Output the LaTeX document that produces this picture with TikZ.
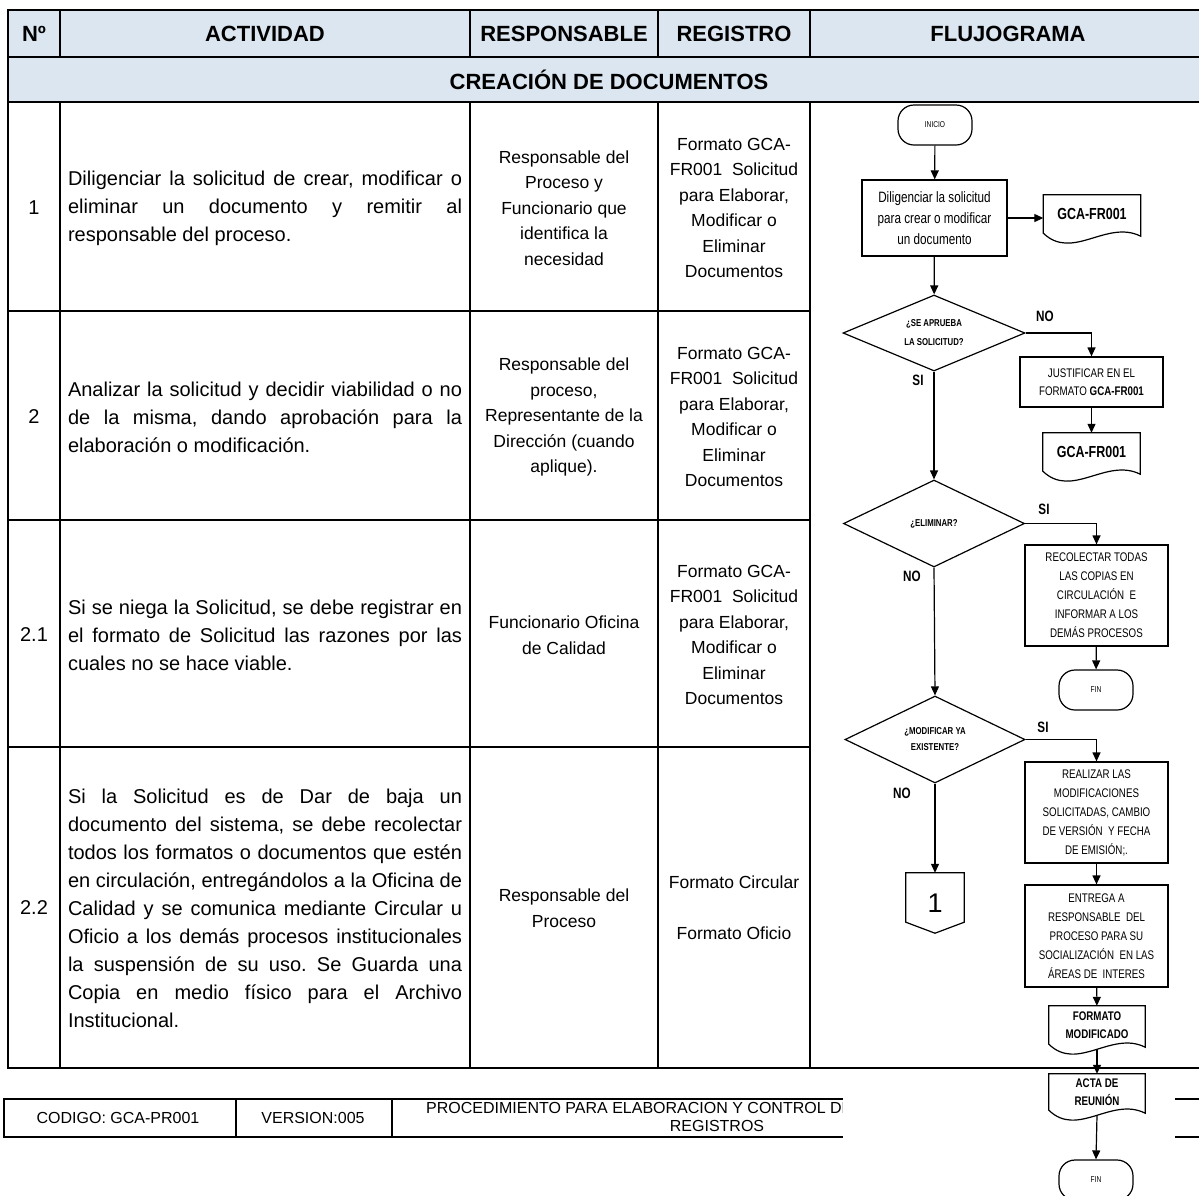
\documentclass[tikz,border=0pt]{standalone}
\usepackage{fontspec}
\setmainfont{Liberation Sans}
\newfontfamily\narrowfont{Liberation Sans}[FakeStretch=0.78]
\usetikzlibrary{arrows.meta,shapes.geometric,calc}

\definecolor{headblue}{HTML}{DCE6F1}
\newcommand{\fsize}[2]{\fontsize{#1pt}{#2pt}\selectfont}
\tolerance=10000
\hyphenpenalty=10000
\frenchspacing

% document symbol: box with a wavy bottom edge
\newcommand{\docoutline}[1]{%
  \draw[flowline] (#1.north west) -- (#1.north east) -- ($(#1.south east)+(0pt,-3pt)$)
    .. controls ($(#1.south west)!0.65!(#1.south east)+(0pt,14pt)$) and ($(#1.south west)!0.3!(#1.south east)+(0pt,-28pt)$) .. (#1.south west) -- cycle;}

\begin{document}
\begin{tikzpicture}[x=1pt,y=-1pt,
        tabline/.style={line width=2.2pt},
        footline/.style={line width=2pt},
        headtext/.style={font=\bfseries\fsize{22}{26}},
        numtext/.style={font=\fsize{20}{28}},
        acttext/.style={text width=394pt,align=justify,inner sep=0pt,font=\fsize{20}{28}},
        celltext/.style={align=center,inner sep=0pt,font=\fsize{17.5}{25.5}},
        foottext/.style={inner sep=0pt,font=\fsize{16}{18}},
        flowline/.style={line width=1.2pt},
        arrow/.style={flowline,-{Triangle[length=9pt,width=8pt]}},
        terminal/.style={draw,flowline,rounded corners=16pt,minimum width=74pt,minimum height=40pt,
            inner sep=0pt,font=\narrowfont\fsize{8.5}{10}},
        process/.style={draw,flowline,fill=white,align=center,inner sep=0pt,
            minimum width=143pt,font=\narrowfont\fsize{12.5}{19}},
        decision/.style={diamond,aspect=2.4,draw,flowline,align=center,inner sep=0pt,
            font=\narrowfont\bfseries\fsize{10}{19}},
        docnode/.style={align=center,inner sep=0pt,minimum width=97pt,minimum height=38pt},
        answer/.style={inner sep=0pt,font=\narrowfont\bfseries\fsize{15}{18}}
    ]
    \useasboundingbox (0,0) rectangle (1199,1195);

    % Header background and table grid
    \fill[headblue] (8,10) rectangle (1210,102);
    \draw[tabline] (8,10) rectangle (1210,1068);
    \draw[tabline] (8,57) -- (1210,57);
    \draw[tabline] (8,102) -- (1210,102);
    \foreach \y in {311,520,747}
        \draw[tabline] (8,\y) -- (810,\y);
    \foreach \x in {60,470,658,810} {
        \draw[tabline] (\x,10) -- (\x,57);
        \draw[tabline] (\x,102) -- (\x,1068);
    }

    % Header texts
    \node[headtext] (hNum) at (34,34) {Nº};
    \node[headtext] (hAct) at (265,34) {ACTIVIDAD};
    \node[headtext] (hResp) at (564,34) {RESPONSABLE};
    \node[headtext] (hReg) at (734,34) {REGISTRO};
    \node[headtext] (hFlujo) at (1008,34) {FLUJOGRAMA};
    \node[headtext] (hSec) at (609,80) {CREACIÓN DE DOCUMENTOS};

    % Row 1
    \node[numtext] (num1) at (34,208) {1};
    \node[acttext] (act1) at (265,208) {Diligenciar la solicitud de crear, modificar o\linebreak eliminar un documento y remitir al\linebreak responsable del proceso.};
    \node[celltext] (resp1) at (564,208) {Responsable del\\Proceso y\\Funcionario que\\identifica la\\necesidad};
    \node[celltext] (reg1) at (734,208) {Formato GCA-\\FR001 \ Solicitud\\para Elaborar,\\Modificar o\\Eliminar\\Documentos};

    % Row 2
    \node[numtext] (num2) at (34,417) {2};
    \node[acttext] (act2) at (265,417) {Analizar la solicitud y decidir viabilidad o no\linebreak de la misma, dando aprobación para la\linebreak elaboración o modificación.};
    \node[celltext] (resp2) at (564,417) {Responsable del\\proceso,\\Representante de la\\Dirección (cuando\\aplique).};
    \node[celltext] (reg2) at (734,417) {Formato GCA-\\FR001 \ Solicitud\\para Elaborar,\\Modificar o\\Eliminar\\Documentos};

    % Row 2.1
    \node[numtext] (num21) at (34,635) {2.1};
    \node[acttext] (act21) at (265,635) {Si se niega la Solicitud, se debe registrar en\linebreak el formato de Solicitud las razones por las\linebreak cuales no se hace viable.};
    \node[celltext] (resp21) at (564,635) {Funcionario Oficina\\de Calidad};
    \node[celltext] (reg21) at (734,635) {Formato GCA-\\FR001 \ Solicitud\\para Elaborar,\\Modificar o\\Eliminar\\Documentos};

    % Row 2.2
    \node[numtext] (num22) at (34,908) {2.2};
    \node[acttext] (act22) at (265,908) {Si la Solicitud es de Dar de baja un\linebreak documento del sistema, se debe recolectar\linebreak todos los formatos o documentos que estén\linebreak en circulación, entregándolos a la Oficina de\linebreak Calidad y se comunica mediante Circular u\linebreak Oficio a los demás procesos institucionales\linebreak la suspensión de su uso. Se Guarda una\linebreak Copia en medio físico para el Archivo\linebreak Institucional.};
    \node[celltext] (resp22) at (564,908) {Responsable del\\Proceso};
    \node[celltext] (reg22) at (734,908) {Formato Circular\\[25.5pt]Formato Oficio};

    % Footer
    \draw[footline] (4,1099) rectangle (1210,1137);
    \draw[footline] (236,1099) -- (236,1137);
    \draw[footline] (392,1099) -- (392,1137);
    \node[foottext] (fCod) at (118,1118) {CODIGO: GCA-PR001};
    \node[foottext] (fVer) at (313,1118) {VERSION:005};
    \node[foottext,anchor=west] (fTit) at (426,1108) {PROCEDIMIENTO PARA ELABORACION Y CONTROL DE};
    \node[foottext] (fTitB) at (717,1126) {REGISTROS};
    % white ground of the flowchart over the footer
    \fill[white] (843,1071) rectangle (1175,1152);

    % Flowchart
    \node[terminal] (inicio) at (935,125) {INICIO};
    \node[process,minimum width=145pt,minimum height=76pt,font=\narrowfont\fsize{15}{21}] (diligenciar) at (934.5,218) {Diligenciar la solicitud\\para crear o modificar\\un documento};
    \node[docnode,font=\narrowfont\bfseries\fsize{16}{20}] (formato1) at (1092,214) {GCA-FR001};
    \docoutline{formato1}
    \node[decision,minimum width=182pt,minimum height=76pt] (aprueba) at (934,333) {¿SE APRUEBA\\LA SOLICITUD?};
    \node[process,minimum height=50pt,font=\narrowfont\fsize{12.5}{18}] (justificar) at (1091.5,382) {JUSTIFICAR EN EL\\FORMATO \textbf{GCA-FR001}};
    \node[docnode,font=\narrowfont\bfseries\fsize{16}{20}] (formato2) at (1091.5,452) {GCA-FR001};
    \docoutline{formato2}
    \node[decision,minimum width=181pt,minimum height=87pt] (eliminar) at (934,523.5) {¿ELIMINAR?};
    \node[process,minimum height=101pt] (recolectar) at (1096.5,595.5) {RECOLECTAR TODAS\\LAS COPIAS EN\\CIRCULACIÓN \ E\\INFORMAR A LOS\\DEMÁS PROCESOS};
    \node[terminal] (fin1) at (1096,690) {FIN};
    \node[decision,minimum width=180pt,minimum height=87pt,font=\narrowfont\bfseries\fsize{10}{16}] (modificar) at (935,739.5) {¿MODIFICAR YA\\EXISTENTE?};
    \node[process,minimum height=101pt] (realizar) at (1096.5,812.5) {REALIZAR LAS\\MODIFICACIONES\\SOLICITADAS, CAMBIO\\DE VERSIÓN \ Y FECHA\\DE EMISIÓN;.};
    \node[minimum width=58pt,minimum height=60pt,inner sep=0pt,font=\fsize{27}{27}] (conector) at (935,903) {1};
    \draw[flowline] (conector.north west) -- (conector.north east) -- ($(conector.south east)+(0pt,11pt)$)
        -- (conector.south) -- ($(conector.south west)+(0pt,11pt)$) -- cycle;
    \node[process,minimum height=102pt] (entrega) at (1096.5,936) {ENTREGA A\\RESPONSABLE \ DEL\\PROCESO PARA SU\\SOCIALIZACIÓN \ EN LAS\\ÁREAS DE \ INTERES};
    \node[docnode,minimum width=96pt,font=\narrowfont\bfseries\fsize{12.5}{18}] (formatoMod) at (1097,1025) {FORMATO\\MODIFICADO};
    \docoutline{formatoMod}
    \node[docnode,minimum width=96pt,minimum height=36pt,font=\narrowfont\bfseries\fsize{12.5}{18}] (acta) at (1097,1092) {ACTA DE\\REUNIÓN};
    \docoutline{acta}
    \node[terminal] (fin2) at (1096,1180) {FIN};

    % Answers
    \node[answer] (no1) at (1045,316) {NO};
    \node[answer] (si1) at (918,380) {SI};
    \node[answer] (si2) at (1044,509) {SI};
    \node[answer] (no2) at (912,576) {NO};
    \node[answer] (si3) at (1043,727) {SI};
    \node[answer] (no3) at (902,793) {NO};

    % Connectors
    \draw[arrow] (inicio) -- (diligenciar);
    \draw[arrow] (diligenciar.east) -- (diligenciar.east -| formato1.west);
    \draw[arrow] (diligenciar) -- (aprueba);
    \draw[arrow] (aprueba.east) -| (justificar.north);
    \draw[arrow] (justificar) -- (formato2);
    \draw[arrow] (aprueba.south) -- (eliminar.north);
    \draw[arrow] (eliminar.east) -| (recolectar.north);
    \draw[arrow] (recolectar) -- (fin1);
    \draw[arrow] (eliminar.south) -- (modificar.north);
    \draw[arrow] (modificar.east) -| (realizar.north);
    \draw[arrow] (modificar.south) -- (conector.north);
    \draw[arrow] (realizar) -- (entrega);
    \draw[arrow] (entrega) -- (formatoMod);
    \draw[arrow] ($(formatoMod.south)+(0pt,-5pt)$) -- (acta.north);
    \draw[arrow] ($(acta.south)+(0pt,-5pt)$) -- (fin2.north);
\end{tikzpicture}
\end{document}
